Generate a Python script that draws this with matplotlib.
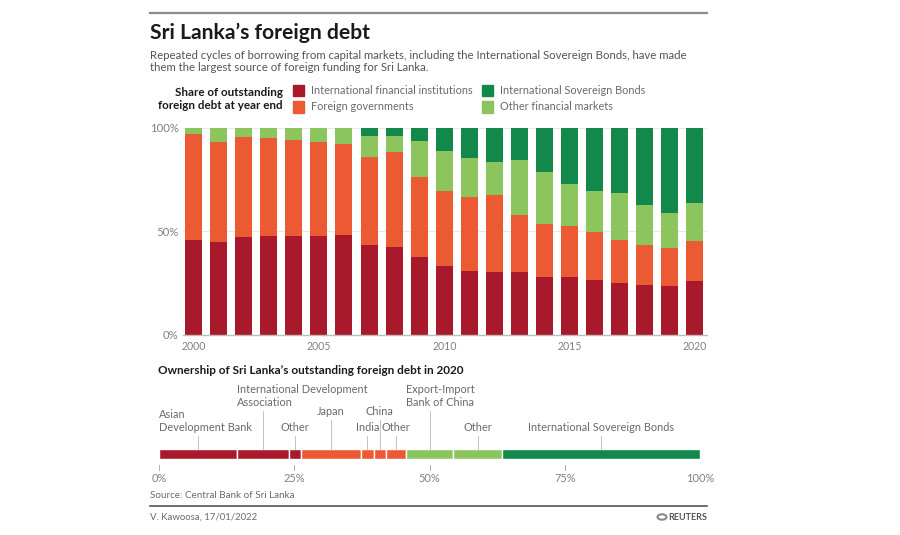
import numpy as np
import matplotlib
matplotlib.use("Agg")
import matplotlib.pyplot as plt

plt.rcParams["font.family"] = ["Lato", "DejaVu Sans"]

# Share of outstanding foreign debt at year end (%)
years = np.arange(2000, 2021)
ifi = [45.7, 44.9, 47.0, 47.7, 47.5, 47.7, 48.0, 43.3, 42.4, 37.4, 32.9,
       30.5, 30.0, 30.0, 27.9, 27.6, 26.2, 25.0, 23.9, 23.3, 25.8]
foreign_gov = [51.1, 48.0, 48.2, 47.2, 46.7, 45.1, 44.1, 42.6, 45.9, 38.8, 36.6,
               36.1, 37.6, 27.9, 25.6, 24.9, 23.2, 20.7, 19.3, 18.3, 19.3]
other_markets = [3.2, 7.1, 4.8, 5.1, 5.8, 7.2, 7.9, 9.9, 7.5, 17.4, 19.1,
                 18.5, 15.9, 26.2, 25.2, 20.1, 20.1, 22.8, 19.2, 17.3, 18.3]
sovereign_bonds = [0.0, 0.0, 0.0, 0.0, 0.0, 0.0, 0.0, 4.2, 4.2, 6.4, 11.4,
                   14.9, 16.5, 15.9, 21.3, 27.4, 30.5, 31.5, 37.6, 41.1, 36.6]

series_names = ["International financial institutions", "Foreign governments",
                "Other financial markets", "International Sovereign Bonds"]

# Ownership in 2020 (%)
owners = ["Asian\nDevelopment Bank", "International Development\nAssociation", "Other",
          "Japan", "India", "China", "Other",
          "Export-Import\nBank of China", "Other", "International Sovereign Bonds"]
owner_share = [14.4, 9.6, 2.3, 11.0, 2.4, 2.2, 3.8, 8.7, 9.0, 36.6]
owner_group = [0, 0, 0, 1, 1, 1, 1, 2, 2, 3]

COLORS = ["#a8192b", "#ec5a33", "#8cc55e", "#12894a"]
GREY = "#6a6a6a"

W, H = 900, 535
fig = plt.figure(figsize=(W / 100, H / 100), dpi=100)


def fx(x):
    return x / W


def fy(y):
    return 1 - y / H


def box(x0, y0, x1, y1):
    return [fx(x0), fy(y1), (x1 - x0) / W, (y1 - y0) / H]


# header
fig.add_artist(plt.Line2D([fx(150), fx(707)], [fy(13), fy(13)], color="#8a8a8a", lw=1.6))
fig.text(fx(150), fy(33), "Sri Lanka\u2019s foreign debt", fontsize=15.2, fontweight="bold",
         color="#1a1a1a", va="center", ha="left")
fig.text(fx(150), fy(61.5), "Repeated cycles of borrowing from capital markets, including the "
         "International Sovereign Bonds, have made\nthem the largest source of foreign funding "
         "for Sri Lanka.", fontsize=8.2, color="#555555", va="center", ha="left", linespacing=1.2)

# legend
fig.text(fx(283), fy(99), "Share of outstanding\nforeign debt at year end", fontsize=8.4,
         fontweight="bold", color="#1a1a1a", ha="right", va="center", linespacing=1.25)
leg_pos = [(293, 91), (293, 107), (482, 107), (482, 91)]
for (lx, ly), name, col in zip(leg_pos, series_names, COLORS):
    fig.add_artist(plt.Rectangle((fx(lx), fy(ly + 5.5)), 11 / W, 11 / H, color=col,
                                 transform=fig.transFigure))
    fig.text(fx(lx + 18), fy(ly), name, fontsize=7.8, color=GREY, va="center", ha="left")

# stacked bars
ax = fig.add_axes(box(183, 127.5, 707, 334.5))
bottom = np.zeros(len(years))
for vals, col in zip([ifi, foreign_gov, other_markets, sovereign_bonds], COLORS):
    ax.bar(years, vals, bottom=bottom, width=0.68, color=col, zorder=2)
    bottom += np.array(vals)
ax.set_xlim(1999.58, 2020.48)
ax.set_ylim(0, 100)
ax.set_yticks([0, 50, 100])
ax.set_yticklabels(["0%", "50%", "100%"])
ax.set_xticks([2000, 2005, 2010, 2015, 2020])
ax.tick_params(length=0, colors="#808080")
ax.tick_params(axis="y", pad=3, labelsize=8.2)
ax.tick_params(axis="x", pad=5, labelsize=7.6)
for y in [50, 100]:
    ax.axhline(y, color="#e8e8e8", lw=0.8, zorder=1)
for s in ["top", "right", "left"]:
    ax.spines[s].set_visible(False)
ax.spines["bottom"].set_color("#bdbdbd")
ax.spines["bottom"].set_linewidth(1)

# ownership section
fig.text(fx(158), fy(370), "Ownership of Sri Lanka\u2019s outstanding foreign debt in 2020",
         fontsize=8.5, fontweight="bold", color="#1a1a1a", va="center", ha="left")

ax2 = fig.add_axes(box(159, 380, 700, 490))
ax2.set_xlim(0, 100)
ax2.set_ylim(490, 380)
ax2.axis("off")

starts = np.concatenate([[0], np.cumsum(owner_share)[:-1]])
ax2.barh(454, owner_share, left=starts, height=10,
         color=[COLORS[g] for g in owner_group], edgecolor="white", linewidth=1)

# label tiers: baseline of last text line (px), alignment
tier = [431, 406, 431, 415, 431, 415, 431, 406, 431, 431]
align = ["left", "left", "center", "center", "center", "center", "center", "left", "center", "center"]
for name, st, sh, ty, ha in zip(owners, starts, owner_share, tier, align):
    mid = st + sh / 2
    ax2.plot([mid, mid], [449, ty + 4.5], color="#c4c4c4", lw=0.7)
    tx = st if ha == "left" else mid
    for k, line in enumerate(reversed(name.split("\n"))):
        ax2.text(tx, ty - 12.8 * k, line, fontsize=7.9, color=GREY, ha=ha, va="baseline")

for t in [0, 25, 50, 75, 100]:
    ax2.plot([t, t], [465, 470], color="#b0b0b0", lw=0.7)
    ax2.text(t, 479, f"{t}%", fontsize=7.9, color="#808080", ha="center", va="center")

# footer
fig.text(fx(150), fy(495), "Source: Central Bank of Sri Lanka", fontsize=7.1, color=GREY,
         va="center", ha="left")
fig.add_artist(plt.Line2D([fx(150), fx(707)], [fy(506), fy(506)], color="#555555", lw=1.2))
fig.text(fx(150), fy(517), "V. Kawoosa, 17/01/2022", fontsize=6.9, color=GREY, va="center", ha="left")
fig.add_artist(plt.Circle((fx(662), fy(517)), 4.5 / W, color="#8a8a8a", fill=False, lw=1.5,
                          transform=fig.transFigure))
fig.text(fx(707), fy(517), "REUTERS", fontsize=6.5, fontweight="bold", color="#555555",
         va="center", ha="right")

fig.savefig("out.png", dpi=100)
